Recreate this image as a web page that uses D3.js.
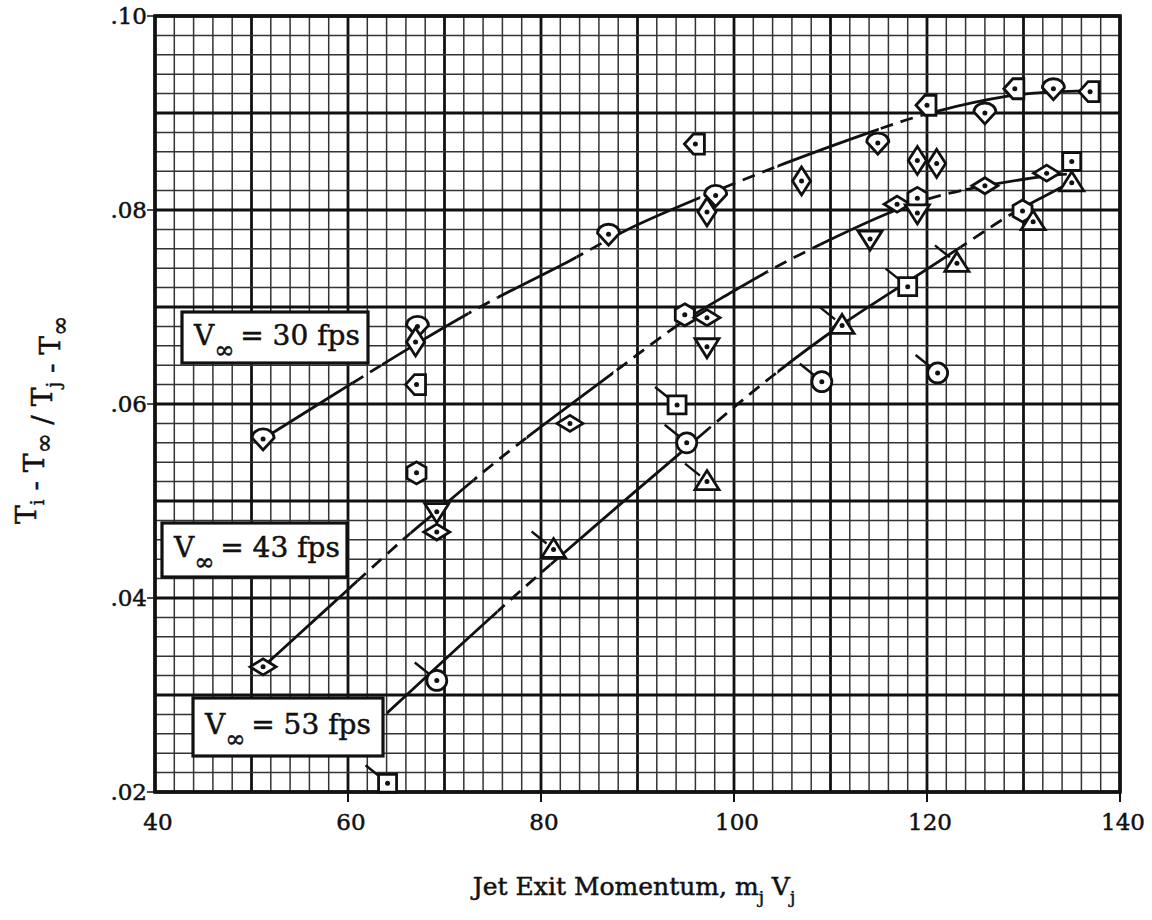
<!DOCTYPE html>
<html>
<head>
<meta charset="utf-8">
<script src="https://cdn.jsdelivr.net/npm/d3@7"></script>
<style>
  body { margin: 0; background: #fff; }
  svg { display: block; }
  text { font-family: "DejaVu Serif", "Liberation Serif", serif; fill: #111; stroke: #111; stroke-width: 0.5px; }
</style>
</head>
<body>
<div id="chart"></div>
<script>
const width = 1152;
const height = 920;
const margin = { top: 16, right: 32, bottom: 128, left: 155 };

// axis ticks
const xTicks = [40, 60, 80, 100, 120, 140];
const yTicks = [0.02, 0.04, 0.06, 0.08, 0.10];
const yTickLabels = [".02", ".04", ".06", ".08", ".10"];

// measured points: [x, y, shape, flag]
const points30 = [
  [51.2, 0.0564, "shield", false],
  [67.2, 0.0680, "shield", false],
  [67.0, 0.0664, "diamondV", false],
  [67.1, 0.0620, "pentL", false],
  [67.1, 0.0529, "hex", false],
  [87.0, 0.0775, "shield", false],
  [96.0, 0.0868, "pentL", false],
  [97.2, 0.0798, "diamondV", false],
  [98.1, 0.0815, "shield", false],
  [107.0, 0.0830, "diamondV", false],
  [114.9, 0.0869, "shield", false],
  [119.0, 0.0851, "diamondV", false],
  [121.0, 0.0848, "diamondV", false],
  [120.0, 0.0908, "pentL", false],
  [126.0, 0.0900, "shield", false],
  [129.1, 0.0925, "pentL", false],
  [133.1, 0.0925, "shield", false],
  [136.9, 0.0922, "pentL", false]
];

const points43 = [
  [51.2, 0.0329, "diamondH", false],
  [69.2, 0.0489, "triDown", false],
  [69.2, 0.0468, "diamondH", false],
  [83.0, 0.0580, "diamondH", false],
  [94.9, 0.0692, "hex", false],
  [97.2, 0.0689, "diamondH", false],
  [97.2, 0.0659, "triDown", false],
  [114.1, 0.0770, "triDown", false],
  [116.9, 0.0806, "diamondH", false],
  [119.0, 0.0812, "hex", false],
  [119.0, 0.0797, "triDown", false],
  [126.0, 0.0825, "diamondH", false],
  [132.4, 0.0838, "diamondH", false],
  [135.0, 0.0850, "square", false]
];

const points53 = [
  [64.1, 0.0209, "square", true],
  [69.2, 0.0315, "circle", true],
  [81.3, 0.0450, "triUp", true],
  [94.1, 0.0599, "square", true],
  [95.1, 0.0560, "circle", true],
  [97.2, 0.0520, "triUp", true],
  [109.1, 0.0623, "circle", true],
  [111.2, 0.0681, "triUp", true],
  [118.0, 0.0721, "square", true],
  [121.1, 0.0632, "circle", true],
  [123.1, 0.0745, "triUp", true],
  [129.9, 0.0799, "hex", false],
  [131.0, 0.0788, "triUp", false],
  [135.0, 0.0828, "triUp", false]
];

// faired curves
const curve30 = [
  [51.2, 0.0564], [60.5, 0.0622], [67.2, 0.0663], [74.7, 0.0707], [83.7, 0.0750],
  [88.2, 0.0778], [96.5, 0.0813], [104.8, 0.0847], [115.1, 0.0884], [120.6, 0.0902],
  [129.1, 0.0920], [133.1, 0.0922], [136.9, 0.0923]
];
const curve43 = [
  [51.2, 0.0329], [60.7, 0.0415], [66.4, 0.0467], [69.2, 0.0489], [73.0, 0.0522],
  [78.5, 0.0566], [87.5, 0.0632], [94.9, 0.0688], [98.9, 0.0710], [104.0, 0.0740],
  [109.2, 0.0766], [117.9, 0.0807], [124.5, 0.0823], [132.0, 0.0835], [134.5, 0.0837]
];
const curve53 = [
  [64.0, 0.0281], [75.4, 0.0386], [81.5, 0.0439], [88.0, 0.0495], [94.4, 0.0549],
  [97.5, 0.0576], [104.0, 0.0630], [111.0, 0.0682], [118.0, 0.0726], [123.1, 0.0759],
  [128.3, 0.0794], [131.0, 0.0808], [135.0, 0.0829]
];

// solid / dashed stretches along each curve: [from, to, dashed]
const style30 = [
  [51.2, 60.5, false], [60.5, 63.5, true], [63.5, 72.5, false], [72.5, 75.5, true],
  [75.5, 83.7, false], [83.7, 87.5, true], [87.5, 96.5, false], [96.5, 104.5, true],
  [104.5, 115, false], [115, 119.5, true], [119.5, 137, false]
];
const style43 = [
  [51.2, 61, false], [61, 66.5, true], [66.5, 73, false], [73, 78.5, true],
  [78.5, 87.5, false], [87.5, 94, true], [94, 103.5, false], [103.5, 109, true],
  [109, 118.5, false], [118.5, 124, true], [124, 134.5, false]
];
const style53 = [
  [64, 75.5, false], [75.5, 81, true], [81, 97.5, false], [97.5, 104.5, true],
  [104.5, 123.5, false], [123.5, 129.5, true], [129.5, 135, false]
];

const labels = [
  { text: "30", box: [182, 312, 186, 51] },
  { text: "43", box: [162, 523, 185, 54] },
  { text: "53", box: [193, 698, 190, 58] }
];

const svg = d3.select("#chart")
  .append("svg")
  .attr("width", width)
  .attr("height", height);

svg.append("rect").attr("width", width).attr("height", height).attr("fill", "#fff");

const x = d3.scaleLinear().domain([40, 140]).range([margin.left, width - margin.right]);
const y = d3.scaleLinear().domain([0.02, 0.10]).range([height - margin.bottom, margin.top]);

// graph paper
const grid = svg.append("g");
const xMinor = d3.range(40, 140.01, 2);
const yMinor = d3.range(0, 41).map(i => 0.02 + i * 0.002);

grid.selectAll(".vx")
  .data(xMinor)
  .enter()
  .append("line")
  .attr("x1", d => x(d)).attr("x2", d => x(d))
  .attr("y1", y(0.10)).attr("y2", y(0.02))
  .attr("stroke", d => Math.round(d) % 10 === 0 ? "#111" : "#333")
  .attr("stroke-width", d => Math.round(d) % 10 === 0 ? 2.8 : 1.5);

grid.selectAll(".hy")
  .data(yMinor)
  .enter()
  .append("line")
  .attr("x1", x(40)).attr("x2", x(140))
  .attr("y1", d => y(d)).attr("y2", d => y(d))
  .attr("stroke", d => Math.round(d * 1000) % 10 === 0 ? "#111" : "#333")
  .attr("stroke-width", d => Math.round(d * 1000) % 10 === 0 ? 2.8 : 1.5);

// frame
svg.append("rect")
  .attr("x", x(40)).attr("y", y(0.10))
  .attr("width", x(140) - x(40)).attr("height", y(0.02) - y(0.10))
  .attr("fill", "none").attr("stroke", "#111").attr("stroke-width", 3.6);

// ticks and tick labels
svg.selectAll(".xt")
  .data(xTicks.slice(1))
  .enter()
  .append("line")
  .attr("x1", d => x(d)).attr("x2", d => x(d))
  .attr("y1", y(0.02)).attr("y2", y(0.02) + 10)
  .attr("stroke", "#111").attr("stroke-width", 2);

svg.selectAll(".xl")
  .data(xTicks)
  .enter()
  .append("text")
  .attr("x", d => x(d) + 3)
  .attr("y", y(0.02) + 38)
  .attr("text-anchor", "middle")
  .style("font-size", "23px")
  .text(d => d);

svg.selectAll(".yt")
  .data(yTicks)
  .enter()
  .append("line")
  .attr("x1", x(40) - 8).attr("x2", x(40))
  .attr("y1", d => y(d)).attr("y2", d => y(d))
  .attr("stroke", "#111").attr("stroke-width", 1.5);

svg.selectAll(".yl")
  .data(yTicks)
  .enter()
  .append("text")
  .attr("x", x(40) - 8)
  .attr("y", d => y(d) + 8)
  .attr("text-anchor", "end")
  .style("font-size", "23px")
  .text((d, i) => yTickLabels[i]);

// axis titles
const xt = svg.append("text")
  .attr("x", 634)
  .attr("y", 895)
  .attr("text-anchor", "middle")
  .style("font-size", "25px");
xt.append("tspan").text("Jet Exit Momentum, m");
xt.append("tspan").attr("dy", 8).style("font-size", "17px").text("j");
xt.append("tspan").attr("dy", -8).text(" V");
xt.append("tspan").attr("dy", 8).style("font-size", "17px").text("j");

const yt = svg.append("text")
  .attr("transform", "translate(36, 420) rotate(-90)")
  .attr("text-anchor", "middle")
  .style("font-size", "28px");
[["T", "i"], [" - T", "∞"], [" / T", "j"], [" - T", "∞"]].forEach(([main, sub]) => {
  yt.append("tspan").text(main);
  yt.append("tspan").attr("dy", 8).style("font-size", sub === "∞" ? "24px" : "18px").text(sub);
  yt.append("tspan").attr("dy", -8).text("");
});

// curves, split into solid and dashed stretches with clip rects
const line = d3.line()
  .x(d => x(d[0]))
  .y(d => y(d[1]))
  .curve(d3.curveBasis);

const defs = svg.append("defs");
const curveLayer = svg.append("g");

function drawCurve(name, knots, stretches) {
  stretches.forEach(([a, b, dashed], i) => {
    const id = `clip-${name}-${i}`;
    defs.append("clipPath").attr("id", id)
      .append("rect")
      .attr("x", x(a)).attr("y", 0)
      .attr("width", x(b) - x(a)).attr("height", height);
    curveLayer.append("path")
      .attr("d", line(knots))
      .attr("clip-path", `url(#${id})`)
      .attr("fill", "none")
      .attr("stroke", "#111")
      .attr("stroke-width", 2.8)
      .attr("stroke-dasharray", dashed ? "13,8" : null);
  });
}

drawCurve("c30", curve30, style30);
drawCurve("c43", curve43, style43);
drawCurve("c53", curve53, style53);

// marker shapes
const shapes = {
  circle: "M-10,0 A10,10 0 1 0 10,0 A10,10 0 1 0 -10,0 Z",
  square: "M-9,-9 L9,-9 L9,9 L-9,9 Z",
  triUp: "M0,-11 L12,8 L-12,8 Z",
  triDown: "M-12,-8 L12,-8 L0,11 Z",
  diamondV: "M0,-14 L9,0 L0,14 L-9,0 Z",
  diamondH: "M-13,0 L0,-8 L13,0 L0,8 Z",
  hex: "M0,-11 L9.5,-5.5 L9.5,5.5 L0,11 L-9.5,5.5 L-9.5,-5.5 Z",
  shield: "M-11,-1 A11,9 0 0 1 11,-1 L0,11 Z",
  pentL: "M-11,0 L-2,-10 L9,-10 L9,10 L-2,10 Z"
};

const markerLayer = svg.append("g");

function drawPoints(data) {
  const g = markerLayer.append("g");
  const m = g.selectAll("g")
    .data(data)
    .enter()
    .append("g")
    .attr("transform", d => `translate(${x(d[0])},${y(d[1])})`);
  m.filter(d => d[3])
    .append("line")
    .attr("x1", -7).attr("y1", -6)
    .attr("x2", -22).attr("y2", -18)
    .attr("stroke", "#111").attr("stroke-width", 2.4);
  m.append("path")
    .attr("d", d => shapes[d[2]])
    .attr("fill", "#fff")
    .attr("stroke", "#111")
    .attr("stroke-width", 2.8)
    .attr("stroke-linejoin", "miter");
  m.append("circle")
    .attr("r", 2.5)
    .attr("fill", "#111");
}

drawPoints(points30);
drawPoints(points43);
drawPoints(points53);

// speed labels
const labelLayer = svg.append("g");
labels.forEach(l => {
  const [bx, by, bw, bh] = l.box;
  labelLayer.append("rect")
    .attr("x", bx).attr("y", by)
    .attr("width", bw).attr("height", bh)
    .attr("fill", "#fff")
    .attr("stroke", "#111")
    .attr("stroke-width", 3.2);
  const t = labelLayer.append("text")
    .attr("x", bx + 12)
    .attr("y", by + bh / 2 + 7)
    .style("font-size", "28px");
  t.append("tspan").text("V");
  t.append("tspan").attr("dy", 13).style("font-size", "24px").text("∞");
  t.append("tspan").attr("dy", -13).attr("dx", 6).text(`= ${l.text} fps`);
});
</script>
</body>
</html>
